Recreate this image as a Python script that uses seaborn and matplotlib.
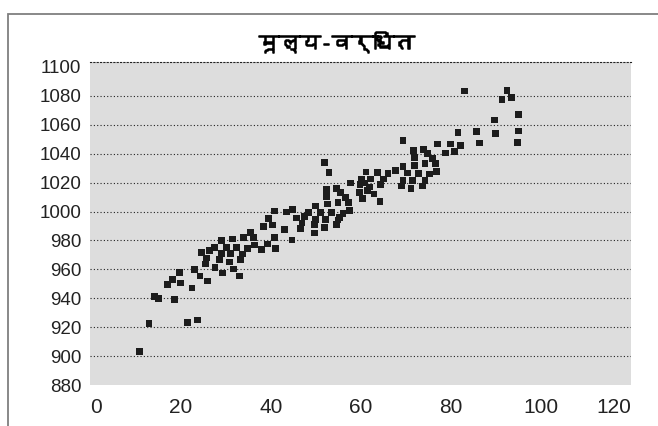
import matplotlib.pyplot as plt
import pandas as pd
import seaborn as sns
from matplotlib import font_manager, patheffects
from matplotlib.ft2font import FT2Font
from matplotlib.patches import Rectangle

shirshak = "मूल्य-वर्धित"

x_mulya = [
    10.8, 13.0, 14.2, 15.0, 17.0, 18.2, 18.6, 19.7, 20.0, 21.5,
    22.5, 23.1, 23.7, 24.3, 24.7, 25.6, 25.8, 25.9, 26.4, 27.5,
    27.6, 28.6, 29.0, 29.0, 29.2, 30.1, 30.8, 31.0, 31.5, 31.7,
    32.4, 33.0, 33.3, 33.8, 33.9, 34.9, 35.5, 36.1, 36.4, 37.9,
    38.4, 39.2, 39.4, 40.4, 40.8, 40.9, 41.1, 43.1, 43.4, 44.7,
    44.8, 45.7, 46.5, 46.9, 47.4, 48.4, 49.7, 49.7, 50.0, 50.0,
    51.0, 51.9, 51.9, 52.1, 52.4, 52.4, 52.5, 52.9, 53.4, 54.5,
    54.5, 54.9, 54.9, 55.3, 55.5, 56.0, 56.6, 57.3, 57.5, 57.6,
    59.6, 59.8, 60.1, 60.4, 60.7, 61.1, 61.4, 61.9, 62.2, 62.9,
    63.6, 64.2, 64.4, 65.0, 66.0, 67.6, 68.9, 69.3, 69.3, 69.3,
    70.3, 71.1, 71.4, 71.7, 71.8, 71.8, 72.7, 73.6, 73.8, 74.2,
    74.2, 74.8, 75.2, 75.8, 76.5, 76.7, 76.9, 78.7, 79.8, 80.8,
    81.5, 82.0, 82.9, 85.7, 86.2, 89.7, 89.8, 91.3, 92.4, 93.4,
    94.8, 94.9, 95.0,
]
y_mulya = [
    903.0, 922.7, 941.4, 940.0, 949.7, 953.1, 939.3, 958.0, 950.6, 923.1,
    947.1, 960.0, 925.0, 955.4, 971.5, 963.7, 967.8, 951.9, 972.9, 975.2,
    961.4, 966.7, 971.1, 979.8, 957.5, 975.2, 965.1, 971.1, 981.0, 960.2,
    975.0, 955.4, 966.7, 970.6, 982.2, 974.6, 985.6, 982.2, 976.8, 973.9,
    989.5, 977.5, 995.3, 990.7, 982.0, 1000.4, 974.6, 987.7, 999.7, 980.3,
    1001.5, 995.5, 988.1, 992.1, 996.7, 999.5, 985.1, 990.9, 994.6, 1003.8,
    999.5, 989.1, 1034.0, 994.6, 1010.5, 1015.4, 1005.2, 1026.8, 999.5, 990.9,
    1016.1, 994.1, 1006.1, 995.7, 1013.3, 998.8, 1009.6, 1006.1, 1000.8, 1019.7,
    1013.0, 1018.8, 1022.5, 1008.9, 1019.7, 1027.3, 1014.4, 1017.0, 1022.5, 1012.1,
    1026.9, 1006.8, 1018.5, 1022.5, 1026.4, 1028.5, 1017.6, 1021.6, 1031.0, 1049.0,
    1026.6, 1016.1, 1021.6, 1042.3, 1037.5, 1032.0, 1026.4, 1017.6, 1043.0, 1033.4,
    1021.6, 1040.3, 1026.0, 1036.5, 1033.4, 1027.8, 1046.7, 1040.5, 1046.7, 1041.4,
    1054.8, 1045.5, 1083.4, 1055.3, 1047.4, 1063.3, 1054.2, 1077.3, 1083.8, 1078.7,
    1047.6, 1055.7, 1067.0,
]

x_ticks = [0, 20, 40, 60, 80, 100, 120]
y_ticks = [880, 900, 920, 940, 960, 980, 1000, 1020, 1040, 1060, 1080, 1100]


def devanagari_font():
    # pehla font jisme devanagari akshar hon
    for entry in font_manager.fontManager.ttflist:
        try:
            charmap = FT2Font(entry.fname).get_charmap()
        except Exception:
            continue
        if 0x092E in charmap and 0x094D in charmap:
            return entry.name
    return "DejaVu Sans"


def main() -> None:
    df = pd.DataFrame({"x": x_mulya, "y": y_mulya})

    sns.set_style("white", {"axes.facecolor": "#dddddd"})
    plt.rcParams["font.family"] = ["Liberation Sans", "DejaVu Sans"]

    fig = plt.figure(figsize=(6.58, 4.26), dpi=100)
    ax = fig.add_axes([0.1375, 0.0962, 0.8222, 0.7575])

    sns.scatterplot(data=df, x="x", y="y", marker="s", s=24, color="#1c1c1c",
                    edgecolor="none", ax=ax, zorder=3)

    ax.set_xlim(0, 120)
    ax.set_ylim(880, 1103.2)
    ax.set_xticks(x_ticks)
    ax.set_yticks(y_ticks)
    ax.set_xlabel("")
    ax.set_ylabel("")

    ax.grid(axis="y", color="#222222", linestyle=(0, (1, 2)), linewidth=0.8)
    ax.set_axisbelow(True)
    grid = ax.yaxis.get_gridlines()
    grid[0].set_visible(False)
    grid[-1].set_visible(False)

    for side in ["left", "right", "bottom"]:
        ax.spines[side].set_visible(False)
    ax.spines["top"].set_visible(True)
    ax.spines["top"].set_color("#222222")
    ax.spines["top"].set_linestyle((0, (1, 2)))
    ax.spines["top"].set_linewidth(0.8)

    ax.tick_params(axis="x", length=5, width=0.8, color="#333333", pad=4,
                   labelsize=15, labelcolor="#222222")
    ax.tick_params(axis="y", length=0, pad=6.5, labelsize=13.5, labelcolor="#222222")
    labels = ax.get_xticklabels()
    labels[0].set_horizontalalignment("left")
    labels[-1].set_horizontalalignment("right")

    fig.text(0.512, 0.899, shirshak, ha="center", va="center", fontsize=15,
             fontweight="bold", color="black", family=[devanagari_font(), "DejaVu Sans"],
             path_effects=[patheffects.withStroke(linewidth=1.1, foreground="black")])

    fig.add_artist(Rectangle((8.4 / 658, -0.1), 1.2, 1.1 - 14 / 426,
                             transform=fig.transFigure, fill=False,
                             edgecolor="#7f7f7f", linewidth=1.3))

    fig.savefig("out.png", dpi=100)


if __name__ == "__main__":
    main()
